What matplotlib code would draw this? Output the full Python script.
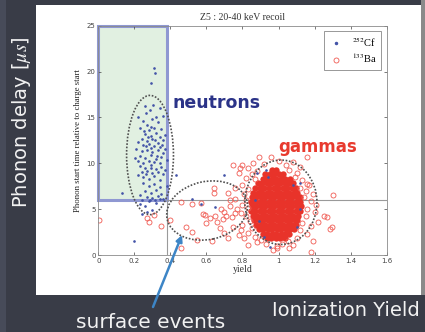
import numpy as np
import matplotlib.pyplot as plt
from matplotlib.patches import Rectangle, Ellipse
from matplotlib.lines import Line2D
from matplotlib.transforms import Affine2D

plt.rcParams['mathtext.fontset'] = 'stix'

# 252Cf calibration events: (yield, phonon start delay [us])
cf_events = [
    (0.31, 20.4), (0.315, 19.8), (0.29, 18.8),
    (0.305, 16.4), (0.26, 16.2), (0.22, 15.1), (0.265, 15.5), (0.32, 15.0), (0.285, 15.8),
    (0.34, 16.0), (0.25, 14.6), (0.30, 14.8), (0.27, 14.2), (0.33, 14.5), (0.36, 15.2),
    (0.23, 13.8), (0.28, 13.6), (0.31, 13.9), (0.35, 13.7), (0.26, 13.2), (0.29, 13.0),
    (0.32, 13.3), (0.34, 12.9), (0.24, 12.6), (0.27, 12.4), (0.30, 12.7), (0.33, 12.2),
    (0.36, 12.5), (0.25, 12.0), (0.28, 12.1), (0.31, 11.9), (0.345, 11.8), (0.22, 12.3),
    (0.37, 13.1), (0.29, 14.0), (0.255, 13.5), (0.315, 12.5), (0.275, 12.9),
    (0.21, 11.6), (0.24, 11.3), (0.27, 11.5), (0.30, 11.2), (0.33, 11.4), (0.36, 11.1),
    (0.23, 10.8), (0.26, 10.6), (0.29, 10.9), (0.32, 10.5), (0.35, 10.7), (0.38, 10.4),
    (0.22, 10.2), (0.25, 10.0), (0.28, 10.3), (0.31, 10.1), (0.34, 10.0), (0.37, 11.6),
    (0.265, 11.9), (0.295, 11.7), (0.325, 10.8), (0.205, 10.6), (0.355, 12.0),
    (0.23, 9.7), (0.26, 9.5), (0.29, 9.8), (0.32, 9.4), (0.35, 9.6), (0.24, 9.0),
    (0.27, 9.2), (0.30, 8.9), (0.33, 9.1), (0.36, 8.8), (0.25, 8.5), (0.28, 8.3),
    (0.31, 8.6), (0.34, 8.2), (0.22, 8.7), (0.37, 9.3), (0.295, 9.5), (0.265, 8.8),
    (0.25, 7.8), (0.28, 7.5), (0.31, 7.7), (0.34, 7.4), (0.26, 7.0), (0.29, 6.8),
    (0.32, 7.1), (0.35, 6.7), (0.23, 6.5), (0.27, 6.3), (0.30, 6.2), (0.33, 6.4),
    (0.36, 6.1), (0.24, 6.0), (0.285, 6.05), (0.315, 6.0), (0.345, 6.1), (0.13, 6.8),
    (0.38, 7.5), (0.23, 5.6), (0.26, 5.3), (0.30, 4.9), (0.24, 4.5), (0.27, 4.7),
    (0.20, 1.5), (0.28, 5.9), (0.32, 5.7),
    (0.43, 8.7), (0.52, 6.1), (0.70, 8.7), (0.57, 5.6), (0.65, 5.2),
    (0.93, 9.3), (0.94, 8.5), (1.08, 7.6), (0.87, 6.0), (1.12, 5.0), (0.89, 3.7),
    (0.92, 2.0), (1.10, 3.0), (0.95, 0.9), (0.88, 8.9), (1.12, 7.9),
]

# 133Ba events in the dense electron-recoil band: rows of (delay, [yields])
ba_core_rows = [
    (9.3, [0.962, 0.987]),
    (8.8, [0.925, 0.95, 0.975, 1.0, 1.025]),
    (8.3, [0.912, 0.937, 0.962, 0.987, 1.012, 1.037, 1.062]),
    (7.8, [0.885, 0.91, 0.935, 0.96, 0.985, 1.01, 1.035, 1.06, 1.08]),
    (7.3, [0.872, 0.897, 0.922, 0.947, 0.972, 0.997, 1.022, 1.047, 1.072, 1.095]),
    (6.8, [0.86, 0.885, 0.91, 0.935, 0.96, 0.985, 1.01, 1.035, 1.06, 1.085, 1.105]),
    (6.3, [0.852, 0.877, 0.902, 0.927, 0.952, 0.977, 1.002, 1.027, 1.052, 1.077, 1.102, 1.12]),
    (5.8, [0.845, 0.87, 0.895, 0.92, 0.945, 0.97, 0.995, 1.02, 1.045, 1.07, 1.095, 1.118]),
    (5.3, [0.852, 0.877, 0.902, 0.927, 0.952, 0.977, 1.002, 1.027, 1.052, 1.077, 1.102, 1.125]),
    (4.8, [0.848, 0.87, 0.895, 0.92, 0.945, 0.97, 0.995, 1.02, 1.045, 1.07, 1.095, 1.12]),
    (4.3, [0.86, 0.882, 0.907, 0.932, 0.957, 0.982, 1.007, 1.032, 1.057, 1.082, 1.107]),
    (3.8, [0.865, 0.89, 0.915, 0.94, 0.965, 0.99, 1.015, 1.04, 1.065, 1.09, 1.105]),
    (3.3, [0.877, 0.902, 0.927, 0.952, 0.977, 1.002, 1.027, 1.052, 1.077, 1.095]),
    (2.8, [0.89, 0.915, 0.94, 0.965, 0.99, 1.015, 1.04, 1.065, 1.085]),
    (2.3, [0.912, 0.937, 0.962, 0.987, 1.012, 1.037, 1.06]),
    (1.8, [0.935, 0.96, 0.985, 1.01, 1.035]),
]

# 133Ba events around the band and in the surface-event region
ba_events = [
    (0.80, 9.8), (0.83, 9.5), (0.86, 10.0), (0.89, 10.7), (0.92, 9.9), (0.96, 10.7),
    (1.00, 10.2), (1.04, 9.8), (1.08, 10.1), (1.12, 9.6), (1.156, 10.7), (0.88, 9.2),
    (1.06, 9.3), (1.10, 8.9), (0.85, 8.8), (0.82, 8.4), (0.87, 8.3), (1.09, 8.5),
    (1.13, 8.2), (1.16, 7.7), (1.17, 7.6), (0.80, 7.6), (0.83, 7.2), (1.12, 7.3),
    (1.15, 7.0), (1.19, 6.6), (0.81, 6.6), (0.82, 6.0), (1.14, 6.3), (1.18, 5.9),
    (1.21, 5.4), (0.80, 5.5), (0.83, 5.1), (1.16, 5.0), (1.20, 4.7), (0.79, 4.6),
    (0.82, 4.2), (1.15, 4.3), (1.25, 4.2), (0.84, 3.7), (0.80, 3.3), (1.13, 3.5),
    (1.18, 3.2), (0.85, 2.9), (0.83, 2.4), (1.12, 2.7), (1.16, 2.3), (0.87, 2.0),
    (0.90, 1.6), (1.10, 1.9), (1.05, 1.5), (0.93, 1.2), (0.99, 1.0), (0.99, 0.73),
    (1.06, 0.73), (0.83, 1.1), (1.18, 0.36), (0.97, 0.5), (1.02, 1.2), (1.08, 1.1),
    (0.88, 1.4), (1.30, 6.5), (1.285, 2.8), (1.295, 3.0), (1.22, 3.6), (1.27, 4.1),
    (1.19, 1.5), (0.78, 8.9), (0.76, 6.1), (0.77, 5.0), (0.79, 2.7), (0.81, 1.9),
    (0.004, 3.8), (0.27, 4.0), (0.28, 3.6), (0.46, 5.8), (0.40, 3.8), (0.485, 3.1),
    (0.52, 5.6), (0.46, 0.73), (0.58, 4.5), (0.59, 4.4), (0.60, 3.5), (0.55, 1.6),
    (0.64, 7.3), (0.64, 6.8), (0.62, 4.0), (0.675, 2.9), (0.72, 6.8), (0.70, 4.7),
    (0.71, 4.2), (0.73, 5.3), (0.74, 4.1), (0.68, 5.0), (0.66, 3.6), (0.75, 9.8),
    (0.787, 9.5), (0.76, 7.3), (0.73, 6.0), (0.69, 3.9), (0.75, 3.1), (0.57, 5.7),
    (0.65, 4.2), (0.70, 2.4), (0.72, 1.8), (0.78, 2.2), (0.63, 1.5), (0.52, 2.5),
    (0.76, 4.6), (0.35, 3.2), (0.31, 4.4),
]

yield_cut = 0.38
delay_cut = 6.0
x_ticks = [0, 0.2, 0.4, 0.6, 0.8, 1, 1.2, 1.4, 1.6]
y_ticks = [0, 5, 10, 15, 20, 25]

cf = np.array(cf_events)
ba = np.array(ba_events)
core_x = np.concatenate([xs for _, xs in ba_core_rows])
core_y = np.concatenate([[y] * len(xs) for y, xs in ba_core_rows])

fig = plt.figure(figsize=(4.25, 3.32), dpi=100)
fig.patch.set_facecolor('#393c47')

# slide background: white panel on a dark board
fig.add_artist(Rectangle((0, 0), 6 / 425, 1, transform=fig.transFigure,
                         facecolor='#474b59', edgecolor='none', zorder=-10))
fig.add_artist(Rectangle((36 / 425, 37 / 332), 1 - 36 / 425, 290 / 332,
                         transform=fig.transFigure, facecolor='white',
                         edgecolor='none', zorder=-9))
fig.add_artist(Rectangle((421 / 425, 37 / 332), 4 / 425, 295 / 332,
                         transform=fig.transFigure, facecolor='#8a8a8a',
                         edgecolor='none', zorder=-8))

ax = fig.add_axes([98.3 / 425, 77 / 332, 288.4 / 425, 229.3 / 332])
ax.set_xlim(0, 1.6)
ax.set_ylim(0, 25)

# neutron acceptance box and cut lines
ax.add_patch(Rectangle((0, delay_cut), yield_cut, 25 - delay_cut, facecolor='#e1f0e1',
                       edgecolor='#8f98d2', linewidth=2.2, zorder=1, clip_on=False))
ax.plot([yield_cut, 1.6], [delay_cut, delay_cut], color='#9a9a9a', lw=0.8, zorder=1.5)
ax.plot([yield_cut, yield_cut], [0, delay_cut], color='#9a9a9a', lw=0.8, zorder=1.5)

ax.plot(core_x, core_y, ls='', marker='o', ms=4.6, mew=0, color='#e8332a', zorder=2)
ax.plot(ba[:, 0], ba[:, 1], ls='', marker='o', ms=3.6, mfc='none', mec='#f05a52',
        mew=0.6, zorder=2)
ax.plot(cf[:, 0], cf[:, 1], ls='', marker='.', ms=1.8, color='#4454a8', zorder=3)

dots = dict(fill=False, edgecolor='#505050', lw=1.2, ls=(0, (1, 1)), zorder=4)
ax.add_patch(Ellipse((0.287, 10.9), 0.26, 13.0, **dots))
ax.add_patch(Ellipse((1.013, 5.75), 0.40, 9.2, **dots))
# tilted surface-event ellipse, drawn in a frame with equal pixel scale on both axes
pos = ax.get_position()
k = (pos.height * 332 / 25) / (pos.width * 425 / 1.6)
iso = Affine2D().scale(1, 1 / k) + ax.transData
ax.add_patch(Ellipse((0.604, 4.85 * k), 0.454, 0.322, angle=12, transform=iso, **dots))

serif = 'Liberation Serif'
ax.set_xticks(x_ticks)
ax.set_xticklabels(['0', '0.2', '0.4', '0.6', '0.8', '1', '1.2', '1.4', '1.6'])
ax.set_yticks(y_ticks)
ax.tick_params(direction='in', length=2.5, width=0.5, labelsize=5, pad=2,
               top=True, right=True, colors='#444444')
for s in ax.spines.values():
    s.set_color('#8a8a8a')
    s.set_linewidth(0.6)
ax.set_title('Z5 : 20-40 keV recoil', family=serif, fontsize=7, color='#333333', pad=4)
ax.set_xlabel('yield', family=serif, fontsize=7, color='#333333', labelpad=1)
ax.set_ylabel('Phonon start time relative to charge start', family=serif, fontsize=6.3,
              color='#222222', labelpad=3)

handles = [Line2D([], [], ls='', marker='.', ms=3, color='#4454a8'),
           Line2D([], [], ls='', marker='o', ms=3.6, mfc='none', mec='#f05a52', mew=0.6)]
leg = ax.legend(handles, ['$^{252}$Cf', '$^{133}$Ba'], loc='upper right',
                prop={'family': serif, 'size': 7.5}, fancybox=False, framealpha=1,
                edgecolor='#888888', borderaxespad=0.5, handlelength=1.5,
                borderpad=0.4, labelspacing=0.3)
leg.get_frame().set_linewidth(0.6)

fig.text(217 / 425, 0.69, 'neutrons', color='#2b3388', fontsize=12.5,
         fontweight='bold', ha='center', va='center')
fig.text(318 / 425, 0.557, 'gammas', color='#e83a2e', fontsize=12,
         fontweight='bold', ha='center', va='center')

fig.text(151 / 425, 4 / 332, 'surface events', color='#f2f2f2', fontsize=14.5,
         ha='center', va='baseline')
fig.text(272 / 425, 16 / 332, 'Ionization Yield', color='#f2f2f2', fontsize=14,
         ha='left', va='baseline')
fig.text(22 / 425, 0.6325, r'Phonon delay [$\mu s$]', color='#f2f2f2', fontsize=14,
         rotation=90, ha='center', va='center')

ax.annotate('', xy=(182, 97), xycoords='figure pixels', xytext=(153, 25),
            textcoords='figure pixels',
            arrowprops=dict(arrowstyle='-|>', color='#3d85c6', lw=1.8,
                            mutation_scale=9, shrinkA=0, shrinkB=0))

fig.savefig('out.png', dpi=100)
